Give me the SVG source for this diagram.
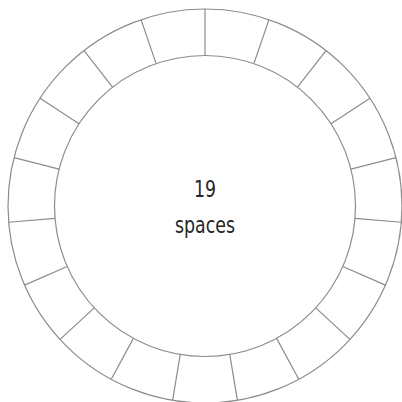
<svg xmlns="http://www.w3.org/2000/svg" width="402" height="402" viewBox="0 0 402 402">
<style>
.ring{fill:none;stroke:#8c8c8c;stroke-width:1.2}
.lbl{font-family:"DejaVu Sans Condensed","DejaVu Sans",sans-serif;font-size:23px;fill:#262626;text-anchor:middle}
</style>
<rect width="402" height="402" fill="#fff"/>
<g id="ring">
<circle class="ring" cx="205" cy="206" r="197"/>
<circle class="ring" cx="205" cy="206" r="150.5"/>
</g>
<g id="dividers" class="ring">
<path d="M205,55.5L205,9 M253.87,63.65L268.97,19.67 M297.44,87.23L326,50.54 M331,123.68L369.92,98.25 M350.89,169.05L395.97,157.64 M354.99,218.43L401.33,222.27 M342.82,266.46L385.41,285.13 M315.73,307.93L349.94,339.42 M276.63,338.36L298.76,379.26 M229.77,354.45L237.42,400.31 M180.23,354.45L172.58,400.31 M133.37,338.36L111.24,379.26 M94.27,307.93L60.06,339.42 M67.18,266.46L24.59,285.13 M55.01,218.43L8.67,222.27 M59.11,169.05L14.03,157.64 M79,123.68L40.08,98.25 M112.56,87.23L84,50.54 M156.13,63.65L141.03,19.67"/>
</g>
<g id="label">
<text class="lbl" x="205" y="197" textLength="22" lengthAdjust="spacingAndGlyphs">19</text>
<text class="lbl" x="205" y="233" textLength="60" lengthAdjust="spacingAndGlyphs">spaces</text>
</g>
</svg>
